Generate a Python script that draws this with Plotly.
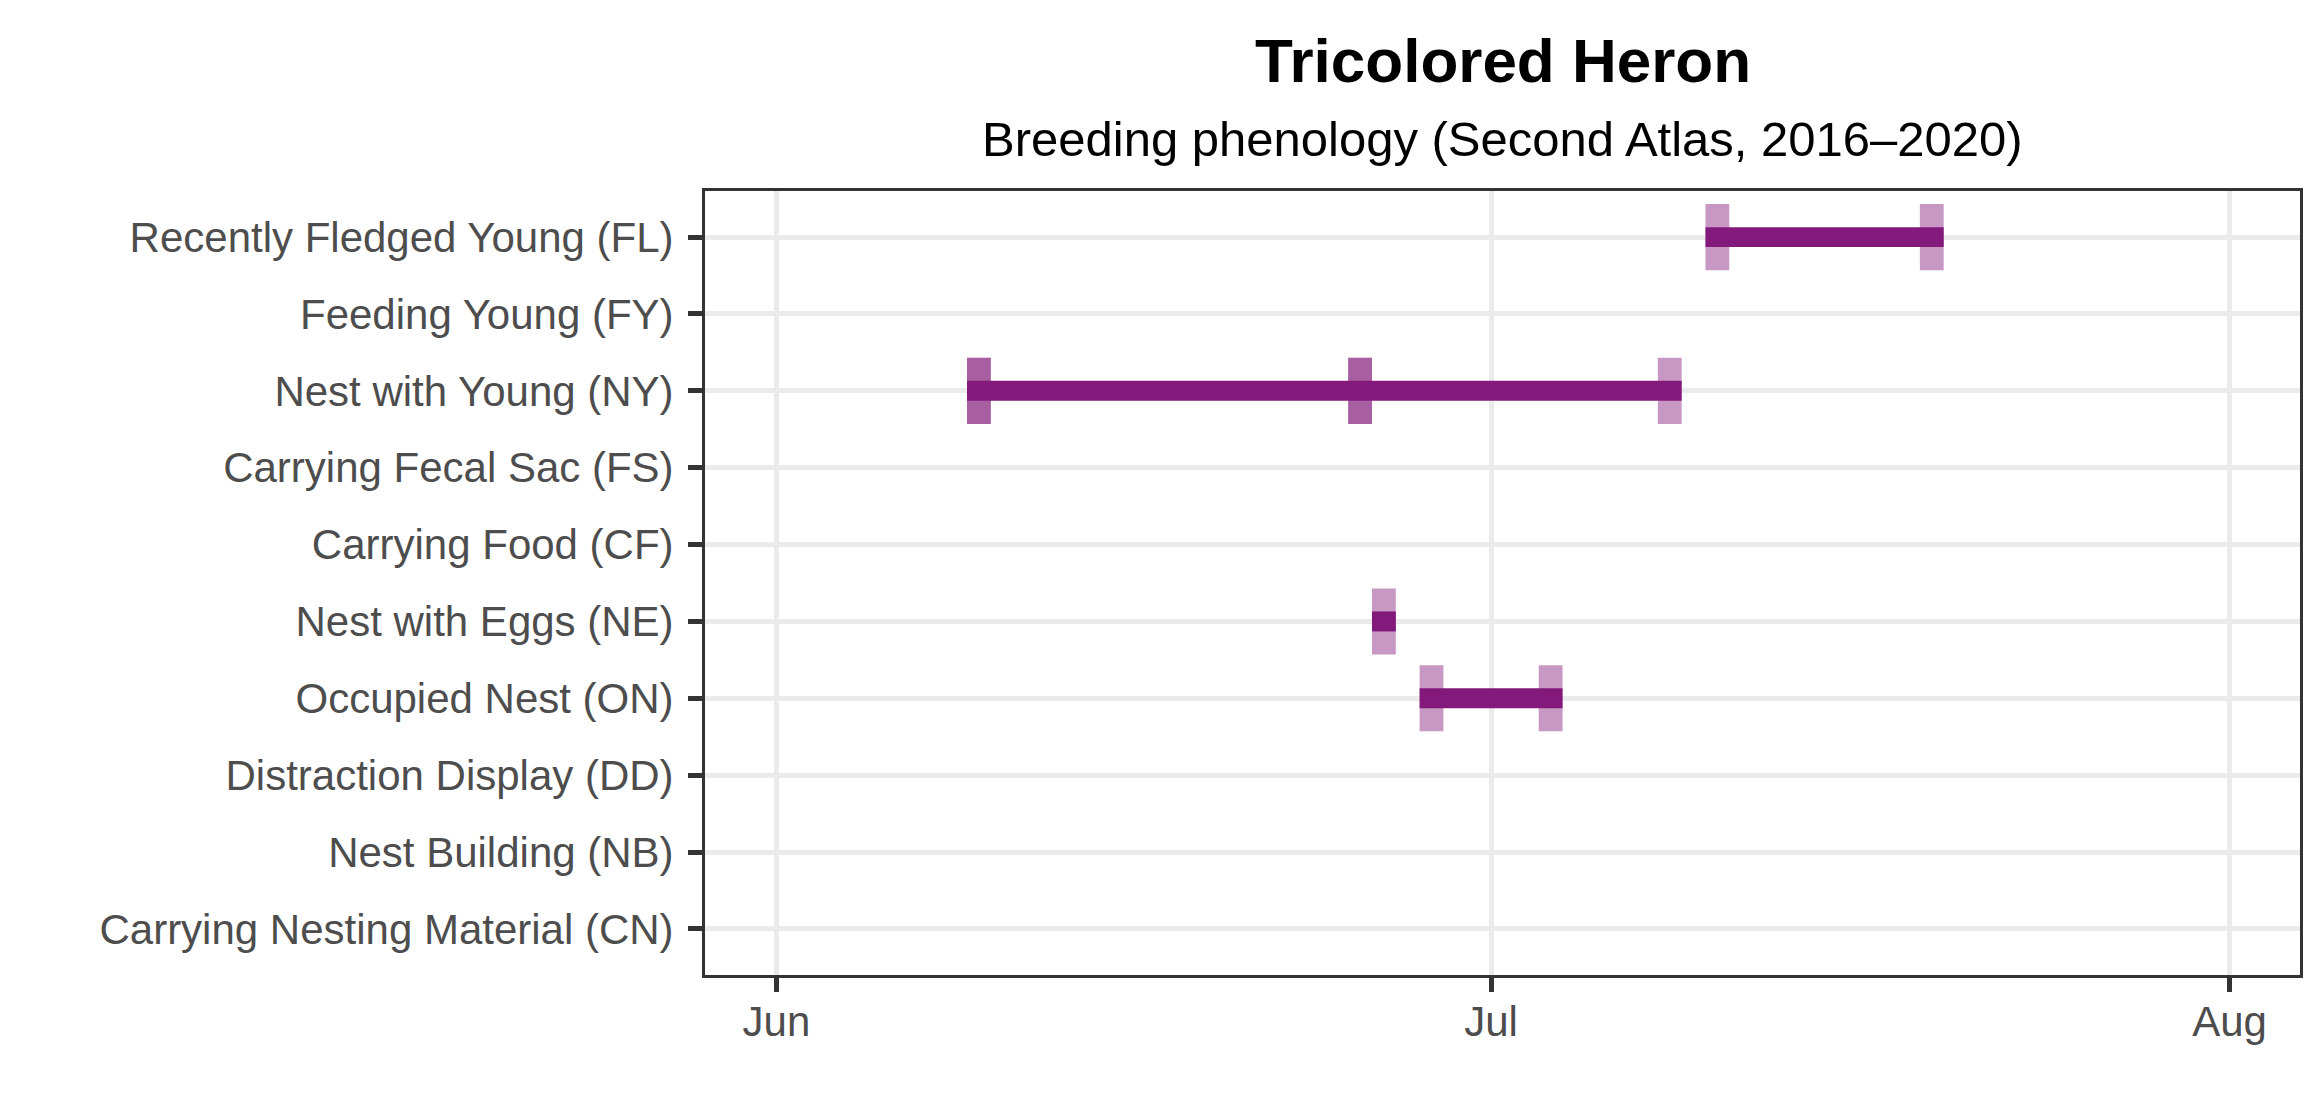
import pandas as pd
import plotly.graph_objects as go

# Breeding codes, top to bottom as in the chart
codes = [
    "Recently Fledged Young (FL)",
    "Feeding Young (FY)",
    "Nest with Young (NY)",
    "Carrying Fecal Sac (FS)",
    "Carrying Food (CF)",
    "Nest with Eggs (NE)",
    "Occupied Nest (ON)",
    "Distraction Display (DD)",
    "Nest Building (NB)",
    "Carrying Nesting Material (CN)",
]

# Observation dates per code (duplicates = two records on the same day)
fl_dates = ["2021-07-10", "2021-07-19"]
ny_dates = ["2021-06-09", "2021-06-09", "2021-06-25", "2021-06-25", "2021-07-08"]
ne_dates = ["2021-06-26"]
on_dates = ["2021-06-28", "2021-07-03"]

observations = {
    "Recently Fledged Young (FL)": fl_dates,
    "Nest with Young (NY)": ny_dates,
    "Nest with Eggs (NE)": ne_dates,
    "Occupied Nest (ON)": on_dates,
}

tick_dates = ["2021-06-01", "2021-07-01", "2021-08-01"]
tick_labels = ["Jun", "Jul", "Aug"]

PURPLE = "#831a7b"
DAY_MS = 86400000

# Long table of single observations
obs = pd.DataFrame(
    [(code, pd.Timestamp(d)) for code, dates in observations.items() for d in dates],
    columns=["code", "date"],
)

# Span from first to last observation (inclusive of the last day)
spans = obs.groupby("code")["date"].agg(["min", "max"]).reset_index()
spans["length"] = (spans["max"] - spans["min"]).dt.days * DAY_MS + DAY_MS

fig = go.Figure()

# invisible trace so every code gets a row
fig.add_trace(
    go.Scatter(
        x=[pd.Timestamp("2021-07-01")] * len(codes),
        y=codes,
        mode="markers",
        marker=dict(opacity=0),
        hoverinfo="skip",
        showlegend=False,
    )
)

# one tile per record
fig.add_trace(
    go.Bar(
        y=obs["code"],
        x=[DAY_MS] * len(obs),
        base=obs["date"].dt.strftime("%Y-%m-%d"),
        orientation="h",
        width=0.86,
        marker=dict(color="rgba(131,26,123,0.45)", line=dict(width=0)),
        showlegend=False,
    )
)

# span line
fig.add_trace(
    go.Bar(
        y=spans["code"],
        x=spans["length"],
        base=spans["min"].dt.strftime("%Y-%m-%d"),
        orientation="h",
        width=0.26,
        marker=dict(color=PURPLE, line=dict(width=0)),
        showlegend=False,
    )
)

fig.update_layout(
    width=2320,
    height=1120,
    barmode="overlay",
    paper_bgcolor="white",
    plot_bgcolor="white",
    font=dict(family="Liberation Sans, Arial, sans-serif", color="#4d4d4d", size=42),
    margin=dict(l=697, r=28, t=183, b=153),
    annotations=[
        dict(
            text="<b>Tricolored Heron</b>",
            xref="paper", yref="paper", x=0.5, y=1.166,
            xanchor="center", yanchor="middle", showarrow=False,
            font=dict(size=62, color="black"),
        ),
        dict(
            text="Breeding phenology (Second Atlas, 2016–2020)",
            xref="paper", yref="paper", x=0.5, y=1.066,
            xanchor="center", yanchor="middle", showarrow=False,
            font=dict(size=49, color="black"),
        ),
    ],
)

fig.update_xaxes(
    type="date",
    range=["2021-05-29", "2021-08-03 23:00"],
    tickvals=tick_dates,
    ticktext=tick_labels,
    showgrid=True,
    gridcolor="#ebebeb",
    gridwidth=5,
    zeroline=False,
    showline=True,
    mirror=True,
    linecolor="#333333",
    linewidth=3,
    ticks="outside",
    ticklen=14,
    tickwidth=5,
    tickcolor="#333333",
    tickfont=dict(size=42, color="#4d4d4d"),
    ticklabelstandoff=-6,
)

fig.update_yaxes(
    type="category",
    categoryorder="array",
    categoryarray=codes[::-1],
    range=[-0.6, len(codes) - 0.4],
    showgrid=True,
    gridcolor="#ebebeb",
    gridwidth=5,
    zeroline=False,
    showline=True,
    mirror=True,
    linecolor="#333333",
    linewidth=3,
    ticks="outside",
    ticklen=14,
    tickwidth=5,
    tickcolor="#333333",
    tickfont=dict(size=42, color="#4d4d4d"),
    ticklabelstandoff=6,
)

fig.write_html("out.html")
